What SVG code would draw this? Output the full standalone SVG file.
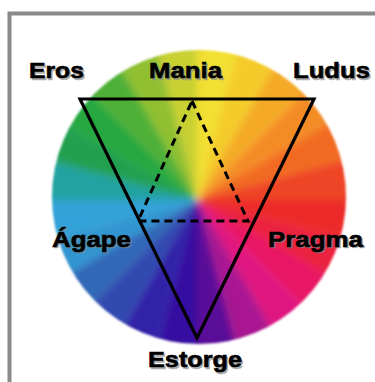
<svg xmlns="http://www.w3.org/2000/svg" width="375" height="382" viewBox="0 0 375 382">
<defs>
<style>
.lbl{font-family:"Liberation Sans",Arial,sans-serif;font-weight:bold;font-size:22px;fill:#000;stroke:#000;stroke-width:0.6}
.sh{font-family:"Liberation Sans",Arial,sans-serif;font-weight:bold;font-size:22px;fill:#8a8a8a;stroke:#8a8a8a;stroke-width:0.6;opacity:0.7}
.tri{fill:none;stroke:#000;stroke-width:3.2;stroke-linejoin:miter}
.dash{fill:none;stroke:#000;stroke-width:3;stroke-dasharray:8 5}
</style>
<clipPath id="disc"><circle cx="199" cy="197" r="147"/></clipPath>
<filter id="soft" x="-10%" y="-10%" width="120%" height="120%"><feGaussianBlur stdDeviation="3.5"/></filter>
<filter id="edge" x="-10%" y="-10%" width="120%" height="120%"><feGaussianBlur stdDeviation="1"/></filter>
</defs>
<rect x="0" y="0" width="375" height="382" fill="#fff"/>
<rect x="9.5" y="13.5" width="400" height="400" fill="#fff" stroke="#8a8a8a" stroke-width="4"/>
<g id="wheel" filter="url(#edge)">
<g clip-path="url(#disc)">
<g filter="url(#soft)">
<path d="M197,200L197,40L238.4,45.5Z" fill="#f2e030"/>
<path d="M197,200L238.4,45.5L277,61.4Z" fill="#f4cc2a"/>
<path d="M197,200L277,61.4L310.1,86.9Z" fill="#f4aa28"/>
<path d="M197,200L310.1,86.9L335.6,120Z" fill="#f48c25"/>
<path d="M197,200L335.6,120L351.5,158.6Z" fill="#f26a22"/>
<path d="M197,200L351.5,158.6L357,200Z" fill="#ee4525"/>
<path d="M197,200L357,200L351.5,241.4Z" fill="#ec2a2a"/>
<path d="M197,200L351.5,241.4L335.6,280Z" fill="#ea2040"/>
<path d="M197,200L335.6,280L310.1,313.1Z" fill="#e81865"/>
<path d="M197,200L310.1,313.1L277,338.6Z" fill="#e01880"/>
<path d="M197,200L277,338.6L238.4,354.5Z" fill="#a81892"/>
<path d="M197,200L238.4,354.5L197,360Z" fill="#5a1098"/>
<path d="M197,200L197,360L155.6,354.5Z" fill="#3610a0"/>
<path d="M197,200L155.6,354.5L117,338.6Z" fill="#3020a8"/>
<path d="M197,200L117,338.6L83.9,313.1Z" fill="#3048b0"/>
<path d="M197,200L83.9,313.1L58.4,280Z" fill="#3068b8"/>
<path d="M197,200L58.4,280L42.5,241.4Z" fill="#3095d0"/>
<path d="M197,200L42.5,241.4L37,200Z" fill="#32a2d8"/>
<path d="M197,200L37,200L42.5,158.6Z" fill="#24a2a0"/>
<path d="M197,200L42.5,158.6L58.4,120Z" fill="#20a050"/>
<path d="M197,200L58.4,120L83.9,86.9Z" fill="#28a840"/>
<path d="M197,200L83.9,86.9L117,61.4Z" fill="#50b038"/>
<path d="M197,200L117,61.4L155.6,45.5Z" fill="#90c030"/>
<path d="M197,200L155.6,45.5L197,40Z" fill="#c8d030"/>
</g>
</g>
</g>
<g id="connectors">
<polygon class="tri" points="80,99 314,99 197,338"/>
<polygon class="dash" points="192,101 248,221 138,221"/>
</g>
<g id="eros"><text class="sh" x="30.5" y="79.5" textLength="55" lengthAdjust="spacingAndGlyphs">Eros</text><text class="lbl" x="29" y="78" textLength="55" lengthAdjust="spacingAndGlyphs">Eros</text></g>
<g id="mania"><text class="sh" x="150.5" y="79.5" textLength="73" lengthAdjust="spacingAndGlyphs">Mania</text><text class="lbl" x="149" y="78" textLength="73" lengthAdjust="spacingAndGlyphs">Mania</text></g>
<g id="ludus"><text class="sh" x="294.5" y="79.5" textLength="77" lengthAdjust="spacingAndGlyphs">Ludus</text><text class="lbl" x="293" y="78" textLength="77" lengthAdjust="spacingAndGlyphs">Ludus</text></g>
<g id="agape"><text class="sh" x="53.5" y="248" textLength="79" lengthAdjust="spacingAndGlyphs">Ágape</text><text class="lbl" x="52" y="246.5" textLength="79" lengthAdjust="spacingAndGlyphs">Ágape</text></g>
<g id="pragma"><text class="sh" x="269.5" y="248" textLength="95" lengthAdjust="spacingAndGlyphs">Pragma</text><text class="lbl" x="268" y="246.5" textLength="95" lengthAdjust="spacingAndGlyphs">Pragma</text></g>
<g id="estorge"><text class="sh" x="149.5" y="368.5" textLength="94" lengthAdjust="spacingAndGlyphs">Estorge</text><text class="lbl" x="148" y="367" textLength="94" lengthAdjust="spacingAndGlyphs">Estorge</text></g>
</svg>
